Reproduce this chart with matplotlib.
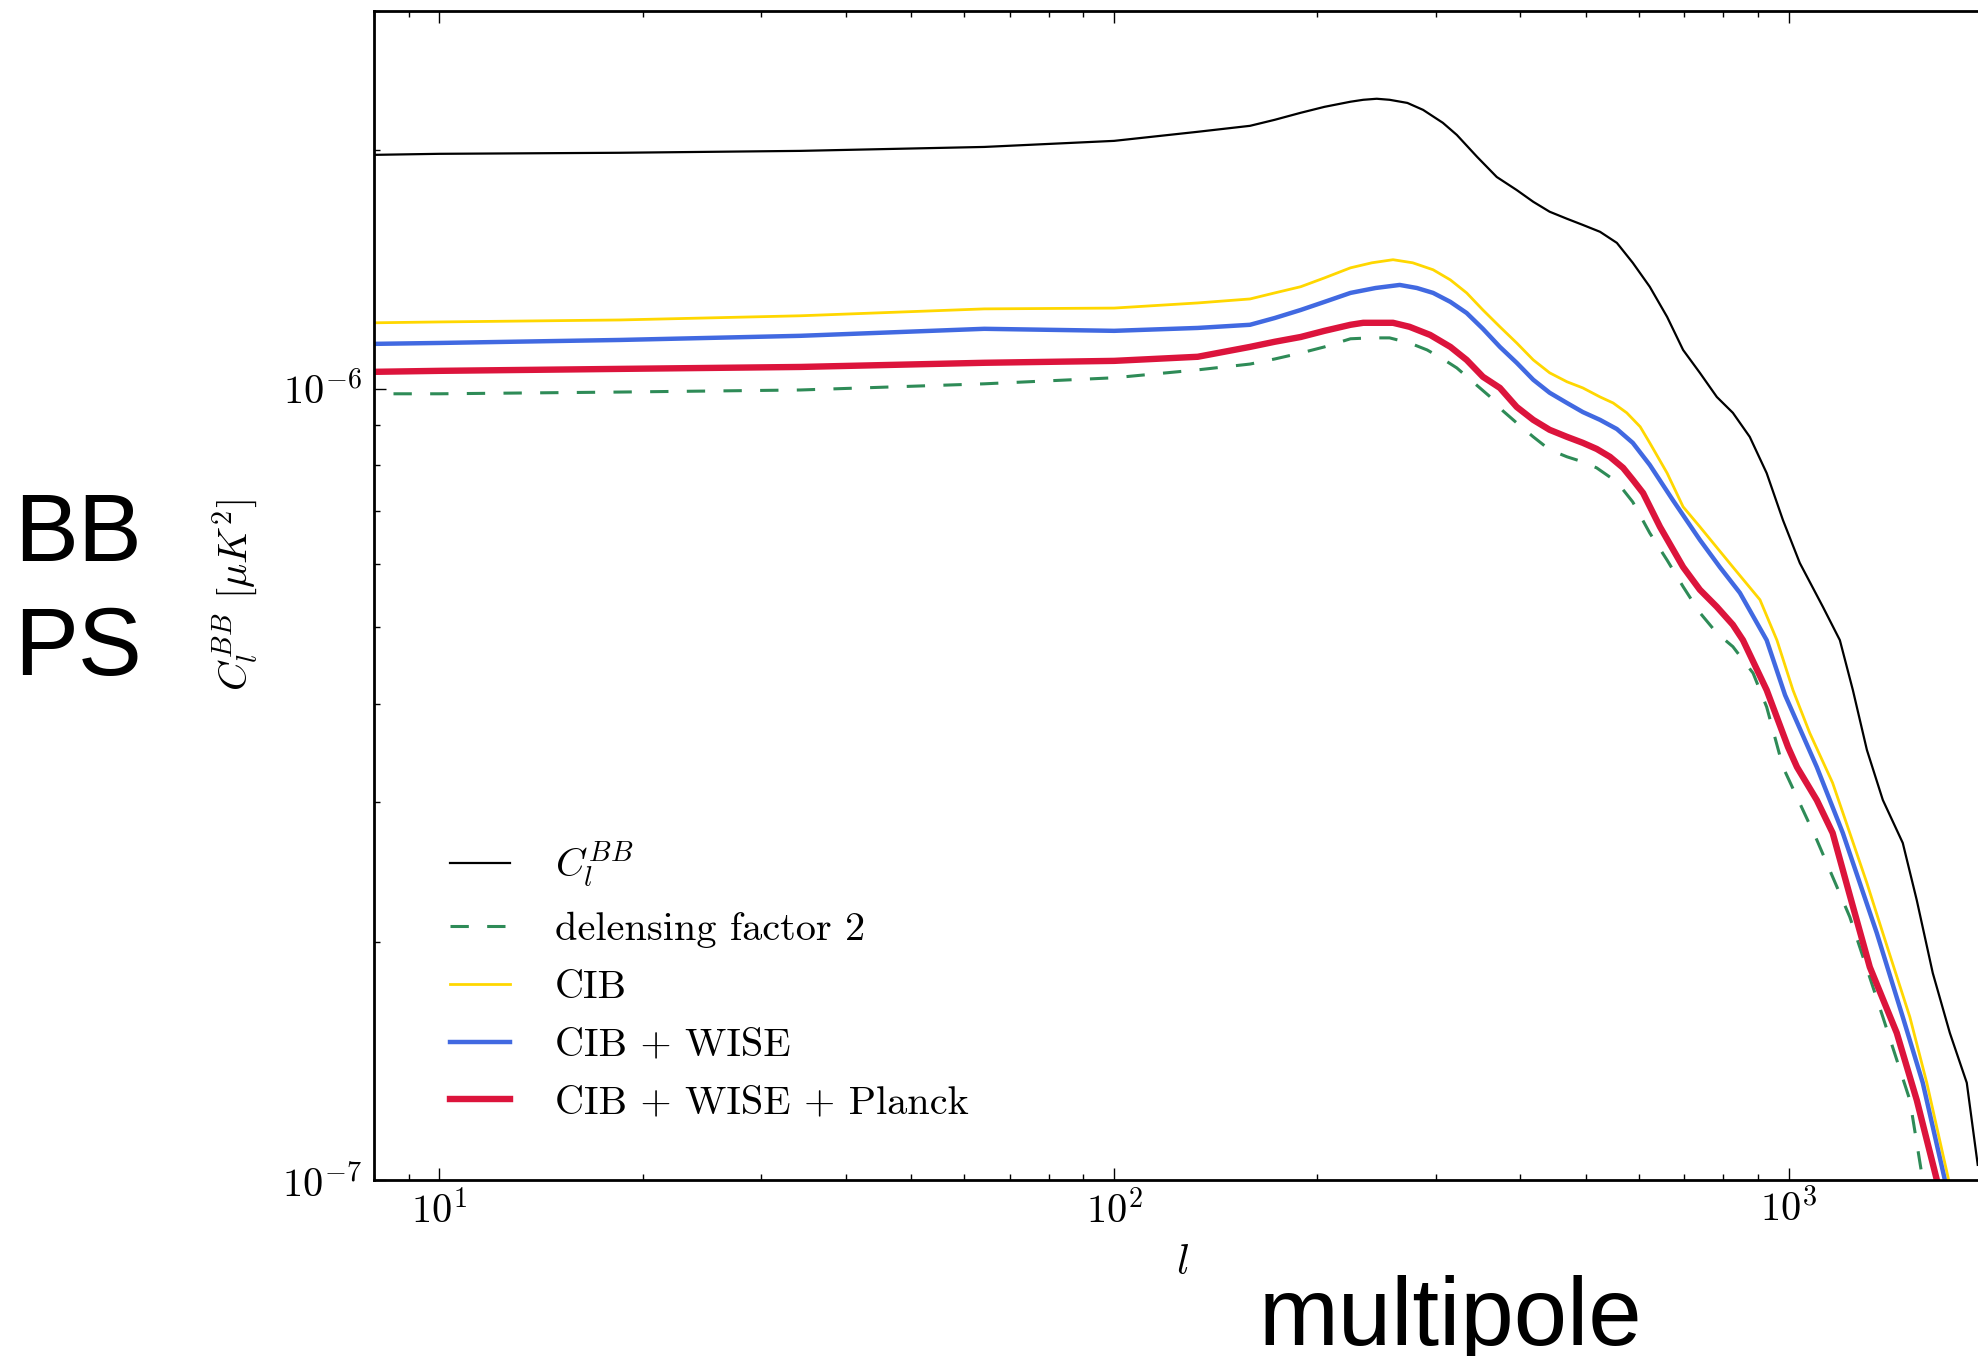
import matplotlib
matplotlib.use("Agg")
import matplotlib.pyplot as plt
from matplotlib.ticker import LogLocator, NullFormatter

plt.rcParams["font.family"] = "serif"
plt.rcParams["font.serif"] = ["cmr10"]
plt.rcParams["mathtext.fontset"] = "cm"
plt.rcParams["axes.formatter.use_mathtext"] = True
plt.rcParams["axes.unicode_minus"] = True

# lensing BB spectrum (values in 1e-6 muK^2)
ell_bb = [8, 10, 18.5, 34.3, 64.2, 100, 133, 159, 173, 189, 205, 224, 234, 245, 256,
          272, 287, 307, 322, 345, 369, 395, 418, 442, 469, 495, 525, 556, 587, 622,
          660, 697, 738, 782, 826, 875, 927, 980, 1038, 1123, 1190, 1244, 1305, 1378,
          1475, 1547, 1634, 1732, 1835, 1905]
cl_bb = [1.974, 1.98, 1.986, 1.997, 2.020, 2.056, 2.111, 2.148, 2.186, 2.231, 2.270,
         2.304, 2.317, 2.324, 2.317, 2.296, 2.250, 2.167, 2.092, 1.963, 1.851, 1.782,
         1.722, 1.673, 1.639, 1.610, 1.578, 1.528, 1.442, 1.345, 1.232, 1.119, 1.047,
         0.976, 0.932, 0.869, 0.782, 0.682, 0.602, 0.530, 0.481, 0.416, 0.3495, 0.3021,
         0.2666, 0.2258, 0.1826, 0.1534, 0.1327, 0.1045]

# residual after delensing by a factor 2
ell_d2 = [8.55, 10, 18.5, 34.3, 64.2, 100, 133, 159, 173, 189, 205, 224, 240, 256, 274,
          291, 307, 322, 340, 361, 377, 395, 418, 442, 469, 495, 519, 543, 568, 587,
          622, 660, 697, 738, 782, 826, 885, 927, 980, 1100, 1231, 1378, 1511, 1579]
cl_d2 = [0.985, 0.985, 0.990, 0.996, 1.014, 1.032, 1.056, 1.074, 1.090, 1.109, 1.129,
         1.156, 1.159, 1.159, 1.142, 1.119, 1.090, 1.062, 1.020, 0.976, 0.937, 0.905,
         0.869, 0.837, 0.820, 0.808, 0.794, 0.773, 0.745, 0.719, 0.657, 0.607, 0.562,
         0.521, 0.491, 0.472, 0.437, 0.396, 0.3325, 0.269, 0.215, 0.1607, 0.1262, 0.1]

ell_cib = [8, 10, 18.5, 34.3, 64.2, 100, 133, 159, 173, 189, 205, 224, 241, 259, 277,
           297, 315, 333, 352, 373, 395, 418, 442, 469, 495, 525, 549, 575, 602, 622,
           660, 697, 738, 826, 906, 960, 1014, 1074, 1161, 1231, 1305, 1378, 1511,
           1601, 1725]
cl_cib = [1.211, 1.214, 1.221, 1.236, 1.261, 1.264, 1.283, 1.298, 1.321, 1.345, 1.380,
          1.421, 1.442, 1.455, 1.442, 1.413, 1.372, 1.321, 1.257, 1.197, 1.142, 1.087,
          1.047, 1.020, 1.002, 0.976, 0.959, 0.932, 0.895, 0.854, 0.782, 0.709, 0.669,
          0.595, 0.541, 0.481, 0.416, 0.367, 0.3175, 0.2745, 0.2373, 0.2051, 0.1607,
          0.1327, 0.1]

ell_wise = [8, 10, 18.5, 34.3, 64.2, 100, 133, 159, 173, 189, 205, 224, 244, 265, 281,
            297, 315, 333, 352, 373, 395, 418, 442, 469, 495, 525, 556, 587, 622, 673,
            738, 790, 846, 927, 987, 1100, 1202, 1350, 1475, 1579, 1703]
cl_wise = [1.139, 1.142, 1.152, 1.166, 1.190, 1.183, 1.193, 1.204, 1.228, 1.257, 1.287,
           1.321, 1.340, 1.352, 1.340, 1.321, 1.287, 1.246, 1.190, 1.129, 1.078, 1.026,
           0.988, 0.959, 0.934, 0.913, 0.889, 0.854, 0.801, 0.723, 0.644, 0.595, 0.552,
           0.481, 0.410, 0.3325, 0.2745, 0.2051, 0.1607, 0.1327, 0.1]

ell_planck = [8, 10, 18.5, 34.3, 64.2, 100, 133, 159, 173, 189, 205, 224, 234, 245, 259,
              274, 294, 315, 333, 352, 373, 395, 418, 442, 469, 495, 519, 543, 568, 587,
              608, 644, 697, 738, 782, 826, 855, 927, 997, 1028, 1100, 1161, 1231, 1318,
              1445, 1547, 1657]
cl_planck = [1.050, 1.053, 1.059, 1.065, 1.078, 1.084, 1.097, 1.129, 1.146, 1.162, 1.183,
             1.204, 1.211, 1.211, 1.211, 1.197, 1.169, 1.129, 1.087, 1.035, 1.002, 0.948,
             0.913, 0.887, 0.869, 0.854, 0.839, 0.820, 0.794, 0.767, 0.738, 0.669, 0.595,
             0.557, 0.530, 0.503, 0.481, 0.416, 0.3525, 0.3325, 0.302, 0.2745, 0.229,
             0.1858, 0.1534, 0.1262, 0.1]

fig = plt.figure(figsize=(19.78, 13.56), dpi=100)
W, H = 1978, 1356
ax = fig.add_axes([374 / W, (H - 1180) / H, (1992 - 374) / W, (1180 - 11) / H])

scale = 1e-6
ax.plot(ell_bb, [c * scale for c in cl_bb], color="black", lw=1.6, label=r"$C_l^{BB}$")
ax.plot(ell_d2, [c * scale for c in cl_d2], color="seagreen", lw=2.2, ls=(0, (6, 6)),
        label="delensing factor 2")
ax.plot(ell_cib, [c * scale for c in cl_cib], color="gold", lw=2.0, label="CIB")
ax.plot(ell_wise, [c * scale for c in cl_wise], color="royalblue", lw=3.2,
        label="CIB + WISE")
ax.plot(ell_planck, [c * scale for c in cl_planck], color="crimson", lw=4.6,
        label="CIB + WISE + Planck")

ax.set_xscale("log")
ax.set_yscale("log")
ax.set_xlim(8, 2000)
ax.set_ylim(1e-7, 3e-6)

ax.yaxis.set_major_locator(LogLocator(base=10, numticks=10))
ax.yaxis.set_minor_locator(LogLocator(base=10, subs=range(2, 10), numticks=20))
ax.yaxis.set_minor_formatter(NullFormatter())
ax.xaxis.set_minor_formatter(NullFormatter())

ax.tick_params(which="both", direction="in", top=True, right=True, labelsize=29,
               width=1.0)
ax.tick_params(which="major", length=8.5, pad=9)
ax.tick_params(axis="x", which="major", pad=7)
ax.tick_params(which="minor", length=4.3)
for sp in ax.spines.values():
    sp.set_linewidth(2.0)

ax.set_xlabel(r"$l$", fontsize=30, labelpad=10)
ax.set_ylabel(r"$C_l^{BB}$ $[\mu K^2]$", fontsize=29, labelpad=16)

ax.legend(loc="lower left", bbox_to_anchor=(0.047, 0.05), frameon=False, fontsize=29,
          handlelength=1.5, handletextpad=1.1, labelspacing=0.54, borderpad=0,
          borderaxespad=0)

# big annotations
big = dict(family="Liberation Sans", fontweight="normal", fontsize=69, ha="left",
           va="baseline")
fig.text(14 / W, 1 - 561 / H, "BB", **big)
fig.text(14 / W, 1 - 675 / H, "PS", **big)
fig.text(1259 / W, 1 - 1345 / H, "multipole", **big)

fig.savefig("out.png", dpi=100)
